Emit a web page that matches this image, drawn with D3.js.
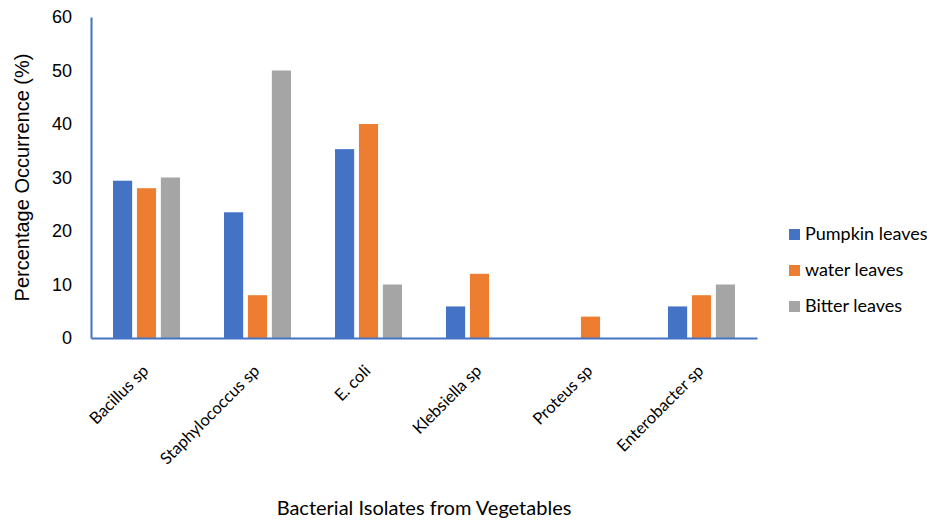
<!DOCTYPE html>
<html>
<head>
<meta charset="utf-8">
<script src="https://cdn.jsdelivr.net/npm/d3@7"></script>
<style>
  body { margin: 0; background: #fff; }
  svg { display: block; }
</style>
</head>
<body>
<svg id="chart" width="927" height="521"></svg>
<script>
// data
var categories = ["Bacillus sp", "Staphylococcus sp", "E. coli", "Klebsiella sp", "Proteus sp", "Enterobacter sp"];
var seriesNames = ["Pumpkin leaves", "water leaves", "Bitter leaves"];
var pumpkin = [29.4, 23.5, 35.3, 5.9, 0, 5.9];
var water = [28, 8, 40, 12, 4, 8];
var bitter = [30, 50, 10, 0, 0, 10];
var yTicks = [0, 10, 20, 30, 40, 50, 60];
var colors = ["#4472C4", "#ED7D31", "#A5A5A5"];

var series = [pumpkin, water, bitter];

var svg = d3.select("#chart"),
    plotLeft = 91, plotRight = 757, plotTop = 17, plotBottom = 338;

var x = d3.scaleBand().domain(categories).range([plotLeft, plotRight]);
var xs = d3.scaleBand().domain(d3.range(3)).range([0, x.bandwidth()])
    .paddingInner(0.2).paddingOuter(0.92);
var y = d3.scaleLinear().domain([0, 60]).range([plotBottom, plotTop]);

// bars
series.forEach(function(vals, si) {
    svg.append("g").selectAll("rect").data(vals).enter().append("rect")
        .attr("x", function(d, i) { return x(categories[i]) + xs(si); })
        .attr("y", function(d) { return y(d); })
        .attr("width", xs.bandwidth())
        .attr("height", function(d) { return plotBottom - y(d); })
        .attr("fill", colors[si]);
});

// y axis
var yAxis = svg.append("g").attr("transform", "translate(" + plotLeft + ",0)")
    .call(d3.axisLeft(y).tickValues(yTicks).tickSize(0).tickPadding(19));
yAxis.select(".domain").attr("stroke", "#4472C4").attr("stroke-width", 2);
yAxis.selectAll("text").attr("font-family", "Liberation Sans, Arial, sans-serif")
    .attr("font-size", 18).attr("fill", "#000");

// x axis
var xAxis = svg.append("g").attr("transform", "translate(0," + plotBottom + ")")
    .call(d3.axisBottom(x).tickSize(0).tickFormat(""));
xAxis.select(".domain").attr("stroke", "#4472C4").attr("stroke-width", 2);

// category labels, rotated
svg.append("g").selectAll("text").data(categories).enter().append("text")
    .attr("transform", function(d) {
        return "translate(" + (x(d) + x.bandwidth() / 2 + 3) + "," + (plotBottom + 34) + ") rotate(-45)";
    })
    .attr("text-anchor", "end")
    .attr("font-family", "Lato, 'Open Sans', sans-serif")
    .attr("font-size", 16.5)
    .attr("fill", "#000")
    .text(function(d) { return d; });

// axis titles
svg.append("text")
    .attr("transform", "translate(29," + ((plotTop + plotBottom) / 2) + ") rotate(-90)")
    .attr("text-anchor", "middle")
    .attr("font-family", "Liberation Sans, Arial, sans-serif")
    .attr("font-size", 20)
    .attr("fill", "#000")
    .text("Percentage Occurrence (%)");

svg.append("text")
    .attr("x", 424).attr("y", 515)
    .attr("text-anchor", "middle")
    .attr("font-family", "Lato, 'Open Sans', sans-serif")
    .attr("font-size", 20)
    .attr("fill", "#000")
    .text("Bacterial Isolates from Vegetables");

// legend
var legend = svg.append("g").selectAll("g").data(seriesNames).enter().append("g")
    .attr("transform", function(d, i) { return "translate(789," + (229 + i * 36) + ")"; });
legend.append("rect").attr("width", 11).attr("height", 11)
    .attr("fill", function(d, i) { return colors[i]; });
legend.append("text")
    .attr("x", 16).attr("y", 11)
    .attr("font-family", "Lato, 'Open Sans', sans-serif")
    .attr("font-size", 18)
    .attr("fill", "#000")
    .text(function(d) { return d; });
</script>
</body>
</html>
